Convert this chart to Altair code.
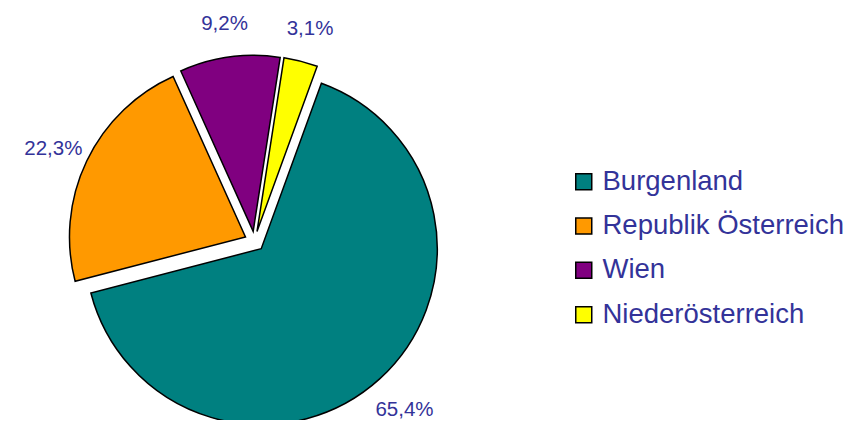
import altair as alt
import pandas as pd

regions = ["Burgenland", "Republik Österreich", "Wien", "Niederösterreich"]
shares = [65.4, 22.3, 9.2, 3.1]
labels = ["65,4%", "22,3%", "9,2%", "3,1%"]
colors = ["#008080", "#FF9900", "#800080", "#FFFF00"]

df = pd.DataFrame({"order": range(len(regions)), "region": regions,
                   "share": shares, "label": labels})

START = 0.349   # radians, clockwise from 12 o'clock
EXPLODE = 10
R = 176
LABEL_R = 213
CX, CY = 246.5, 233.3

base = alt.Chart(df).transform_window(
    cum="sum(share)", frame=[None, 0], sort=[alt.SortField("order")]
).transform_calculate(
    t0=f"{START} + 2*PI*(datum.cum - datum.share)/100",
    t1=f"{START} + 2*PI*datum.cum/100",
).transform_calculate(
    mid="(datum.t0 + datum.t1)/2"
).transform_calculate(
    px=f"{CX} + {EXPLODE}*sin(datum.mid)",
    py=f"{CY} - {EXPLODE}*cos(datum.mid)",
)

arcs = base.mark_arc(outerRadius=R, stroke="black", strokeWidth=1.5).encode(
    x=alt.X("px:Q", scale=None, axis=None),
    y=alt.Y("py:Q", scale=None, axis=None),
    theta=alt.Theta("t0:Q", scale=None, stack=False),
    theta2="t1:Q",
    color=alt.Color(
        "region:N",
        scale=alt.Scale(domain=regions, range=colors),
        sort=regions,
        legend=alt.Legend(
            title=None, orient="none", legendX=562, legendY=160,
            symbolType="square", symbolSize=256, symbolStrokeColor="black",
            symbolStrokeWidth=1.5, symbolOpacity=1,
            labelFontSize=27.5, labelColor="#333399", labelFont="Liberation Sans",
            labelOffset=5, rowPadding=15.3, labelLimit=400,
        ),
    ),
)

texts = base.mark_text(radius=LABEL_R, dy=4, font="Liberation Sans", fontSize=20.5,
                       color="#333399", align="center", baseline="middle").encode(
    x=alt.X("px:Q", scale=None, axis=None),
    y=alt.Y("py:Q", scale=None, axis=None),
    theta=alt.Theta("mid:Q", scale=None, stack=False),
    text="label:N",
)

chart = alt.layer(arcs, texts).properties(
    width=843, height=412, padding=0, autosize="none"
).configure_view(strokeWidth=0)

chart.save("out.html", embed_options={"renderer": "svg", "actions": False})
